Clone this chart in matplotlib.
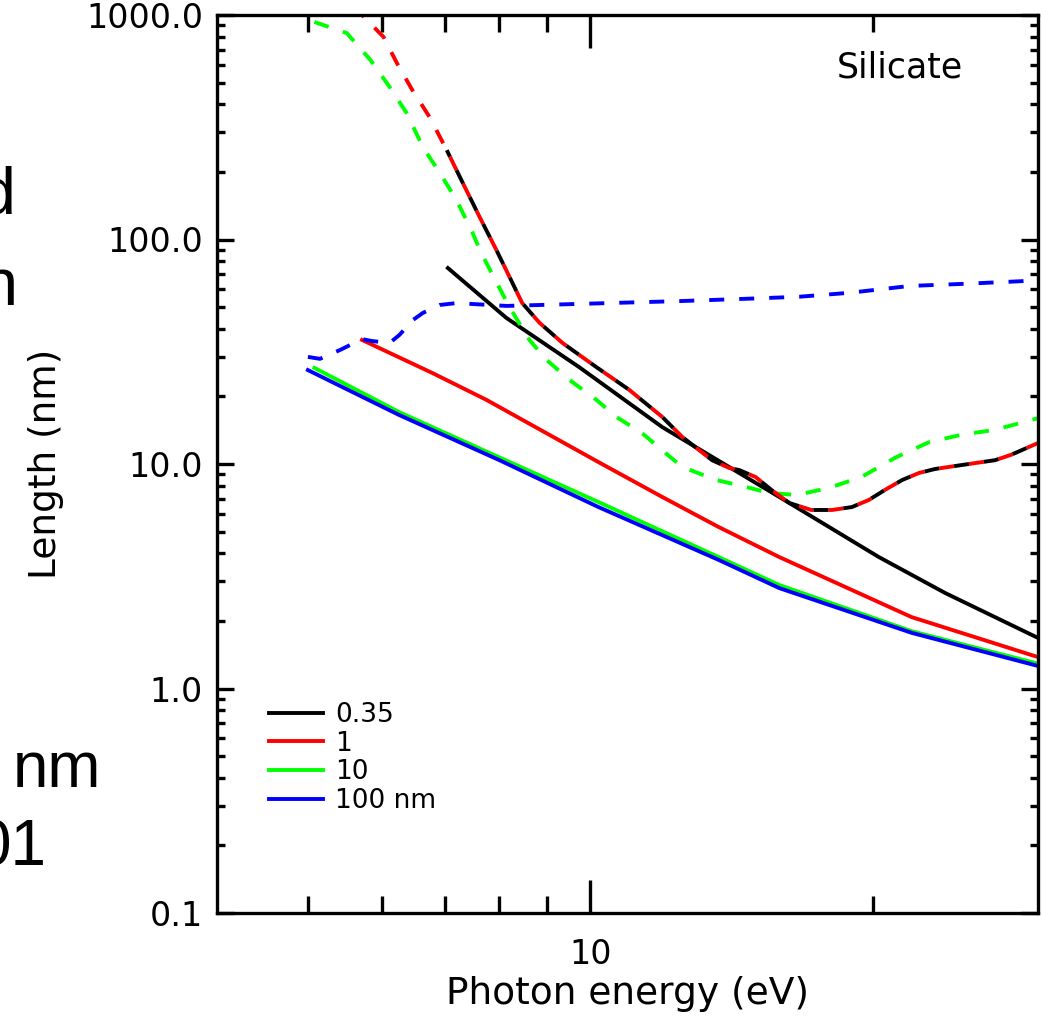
import numpy as np
import matplotlib
matplotlib.use('Agg')
import matplotlib.pyplot as plt
from matplotlib.ticker import LogLocator, NullFormatter

plt.rcParams['font.family'] = 'DejaVu Sans'
plt.rcParams['lines.scale_dashes'] = False

# solid lines (one per grain size)
e_035 = [7.05, 8.14, 9.73, 11.93, 15.9, 20.3, 23.9, 30]
l_035 = [74.6, 44.7, 27.0, 14.6, 7.13, 3.85, 2.66, 1.68]
e_1 = [5.71, 6.79, 7.75, 10.2, 11.93, 13.7, 15.9, 22.0, 30]
l_1 = [35.7, 25.4, 19.3, 10.2, 7.13, 5.24, 3.85, 2.08, 1.38]
e_10 = [5.08, 6.26, 8.0, 10.2, 13.7, 15.9, 22.0, 30]
l_10 = [26.8, 17.0, 10.7, 6.77, 3.85, 2.89, 1.80, 1.29]
e_100 = [5.0, 6.26, 8.0, 10.2, 13.7, 15.9, 22.0, 30]
l_100 = [26.2, 16.5, 10.4, 6.43, 3.74, 2.80, 1.77, 1.26]

# dashed lines
e_dash_10 = [5.08, 5.50, 5.83, 6.11, 6.37, 6.63, 6.91, 7.2, 7.49, 7.65, 8.20, 8.61,
             8.98, 9.50, 10.15, 10.66, 11.36, 11.93, 12.53, 13.62, 14.66, 15.5,
             16.6, 17.95, 19.45, 21.16, 22.95, 24.87, 27.0, 30]
l_dash_10 = [931, 831, 630, 478, 366, 258, 198, 150, 107, 87.1, 50.0, 35.7,
             29.1, 23.7, 19.3, 16.2, 13.7, 11.5, 9.70, 8.49, 7.90, 7.43,
             7.28, 7.82, 8.75, 10.7, 12.5, 13.5, 14.2, 16.0]

e_dash_1 = [5.6, 5.71, 6.02, 6.22, 6.46, 6.74, 7.03, 7.31, 7.62, 7.94, 8.26, 8.46,
            8.83, 9.34, 10.15, 11.0, 11.93, 12.53, 13.48, 14.06, 14.41, 15.0, 15.6,
            16.3, 17.2, 18.1, 19.0, 19.8, 20.6, 21.5, 22.4, 23.3, 24.9, 27.0, 28.1, 30]
l_dash_1 = [1100, 1000, 798, 611, 463, 351, 250, 179, 126, 89.8, 64.0, 52.1,
            42.5, 34.6, 27.0, 21.4, 16.2, 13.2, 10.4, 9.6, 9.40, 8.75, 7.66,
            6.70, 6.24, 6.24, 6.43, 6.91, 7.66, 8.49, 9.12, 9.50, 9.90, 10.4, 11.0, 12.4]

e_dash_035 = [7.03, 7.31, 7.62, 7.94, 8.26, 8.46, 8.83, 9.34, 10.15, 11.0, 11.93,
              12.53, 13.48, 14.06, 14.41, 15.0, 15.6, 16.3, 17.2, 18.1, 19.0, 19.8,
              20.6, 21.5, 22.4, 23.3, 24.9, 27.0, 28.1, 30]
l_dash_035 = [250, 179, 126, 89.8, 64.0, 52.1, 42.5, 34.6, 27.0, 21.4, 16.2,
              13.2, 10.4, 9.6, 9.40, 8.75, 7.66, 6.70, 6.24, 6.24, 6.43, 6.91,
              7.66, 8.49, 9.12, 9.50, 9.90, 10.4, 11.0, 12.4]

e_dash_100 = [5.0, 5.15, 5.41, 5.71, 5.85, 6.11, 6.26, 6.47, 6.63, 6.91, 7.2, 7.49,
              8.14, 10.47, 12.5, 14.76, 16.7, 18.9, 21.9, 25.1, 29.0, 30]
l_dash_100 = [30.0, 29.4, 32.2, 36.0, 35.3, 34.6, 37.6, 43.8, 47.1, 51.1, 52.1, 51.6,
              50.6, 52.1, 53.2, 54.5, 55.6, 57.9, 62.1, 63.5, 65.3, 65.7]

labels = ['0.35', '1', '10', '100 nm']
x_major = [10]
x_major_labels = ['10']
x_minor = [5, 6, 7, 8, 9, 20]
y_major = [0.1, 1, 10, 100, 1000]
y_major_labels = ['0.1', '1.0', '10.0', '100.0', '1000.0']

fig = plt.figure(figsize=(10.42, 10.16), dpi=100)
ax = fig.add_axes([217/1042, 1 - 913/1016, 821/1042, 898/1016])
ax.set_xscale('log')
ax.set_yscale('log')
ax.set_xlim(4, 30)
ax.set_ylim(0.1, 1000)

lw = 2.8
on = 10.8
h1, = ax.plot(e_035, l_035, color='black', lw=lw)
h2, = ax.plot(e_1, l_1, color='#ff0000', lw=lw)
h3, = ax.plot(e_10, l_10, color='#00ff00', lw=lw)
h4, = ax.plot(e_100, l_100, color='#0000ff', lw=lw)

ax.plot(e_dash_10, l_dash_10, color='#00ff00', lw=lw, linestyle=(0, (on, on)))
ax.plot(e_dash_1, l_dash_1, color='#ff0000', lw=lw, linestyle=(0, (on, on)))
# black dashes fill the gaps of the red ones where the two curves coincide
pts = ax.transData.transform(np.column_stack([e_dash_1, l_dash_1]))
seg = np.hypot(*np.diff(pts, axis=0).T)
s0 = seg[:6].sum() * 72 / fig.dpi
ax.plot(e_dash_035, l_dash_035, color='black', lw=lw,
        linestyle=((s0 + on) % (2 * on), (on, on)))
ax.plot(e_dash_100, l_dash_100, color='#0000ff', lw=lw, linestyle=(0, (on, on)))

ax.set_xticks(x_major, labels=x_major_labels)
ax.set_xticks(x_minor, minor=True)
ax.xaxis.set_minor_formatter(NullFormatter())
ax.set_yticks(y_major, labels=y_major_labels)
ax.yaxis.set_minor_locator(LogLocator(base=10, subs=range(2, 10)))
ax.yaxis.set_minor_formatter(NullFormatter())

ax.tick_params(which='both', direction='in', top=True, right=True, width=2.4,
               labelsize=24)
ax.tick_params(axis='x', which='major', length=24, pad=18)
ax.tick_params(axis='x', which='minor', length=12)
ax.tick_params(axis='y', which='major', length=12, pad=10)
ax.tick_params(axis='y', which='minor', length=6)
for s in ax.spines.values():
    s.set_linewidth(2.4)

ax.set_xlabel('Photon energy (eV)', fontsize=27)
ax.xaxis.set_label_coords(0.5, -0.07)
ax.set_ylabel('Length (nm)', fontsize=27)
ax.yaxis.set_label_coords(-0.186, 0.5)

ax.text(0.832, 0.941, 'Silicate', transform=ax.transAxes, ha='center',
        va='center', fontsize=25)

ax.legend([h1, h2, h3, h4], labels, loc='upper left', bbox_to_anchor=(0.0633, 0.235),
          frameon=False, fontsize=19, handlelength=2.05, handletextpad=0.45,
          labelspacing=0.1, borderpad=0, borderaxespad=0)

# bits of slide text cut off at the left edge
fig.text(15/1042, 1 - 213/1016, 'd', ha='right', va='baseline', fontsize=48,
         family='Liberation Sans')
fig.text(18/1042, 1 - 305/1016, 'n', ha='right', va='baseline', fontsize=48,
         family='Liberation Sans')
fig.text(101/1042, 1 - 787/1016, 'nm', ha='right', va='baseline', fontsize=46,
         family='Liberation Sans')
fig.text(47/1042, 1 - 865/1016, '01', ha='right', va='baseline', fontsize=46,
         family='Liberation Sans')

fig.savefig('out.png', dpi=100)
